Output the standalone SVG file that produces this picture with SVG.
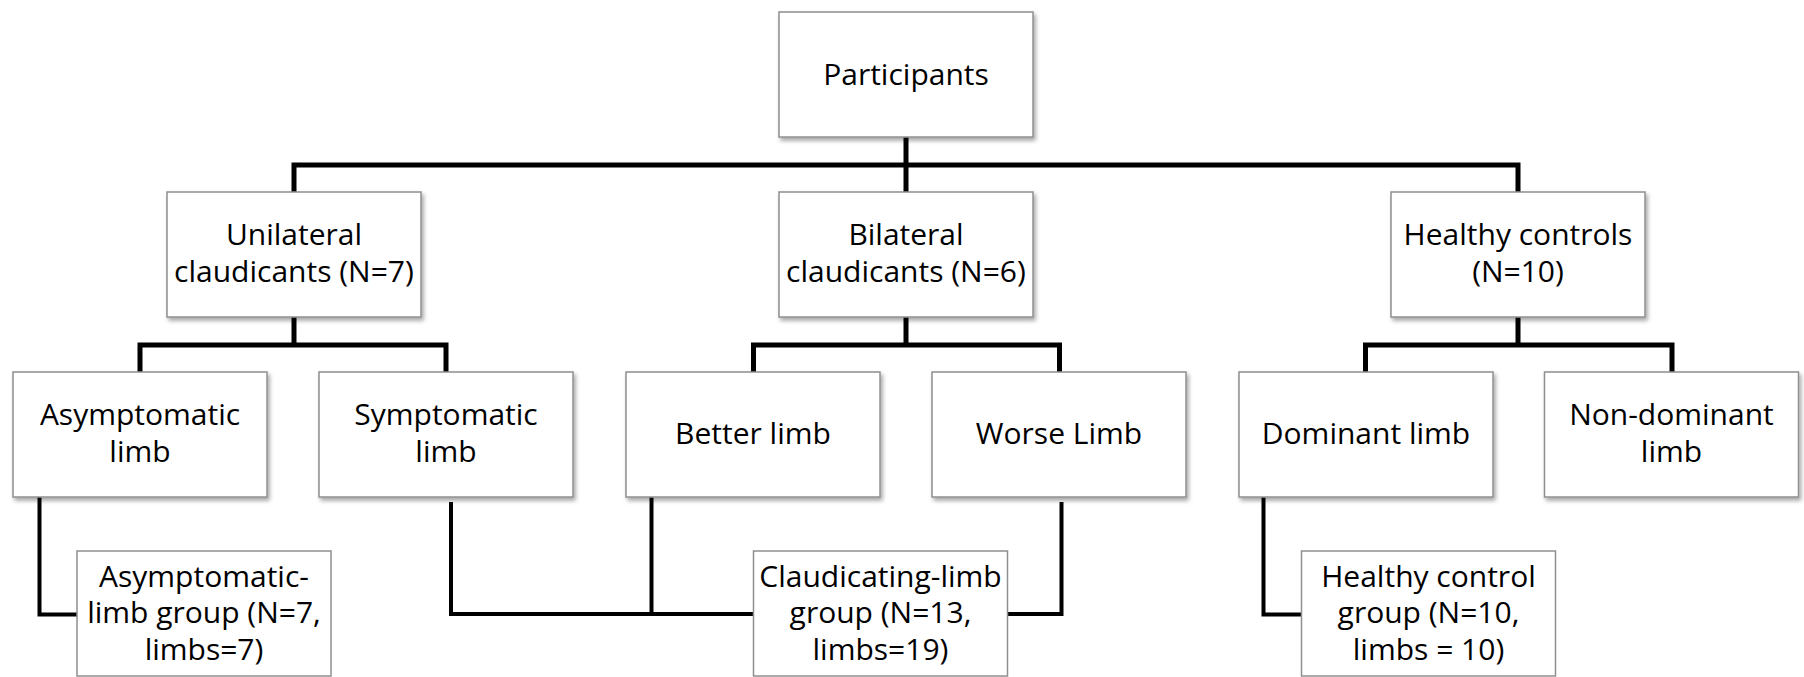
<svg xmlns="http://www.w3.org/2000/svg" width="1804" height="677" viewBox="0 0 1804 677">
<defs>
<filter id="sh" x="-10%" y="-10%" width="125%" height="130%">
<feDropShadow dx="2" dy="3" stdDeviation="2" flood-color="#000" flood-opacity="0.35"/>
</filter>
<style>
.box{fill:#fff;stroke:#8f8f8f;stroke-width:1.5}
.sh{filter:url(#sh)}
text{font-family:"Open Sans","Noto Sans","Liberation Sans",sans-serif;font-size:30px;fill:#000;text-anchor:middle}
.thick{fill:none;stroke:#000;stroke-width:5;stroke-linejoin:miter;stroke-linecap:butt}
.thin{fill:none;stroke:#000;stroke-width:4;stroke-linejoin:miter;stroke-linecap:butt}
</style>
</defs>
<rect width="1804" height="677" fill="#fff"/>
<g id="connectors">
<path class="thick" d="M906,137 V192"/>
<path class="thick" d="M294,192 V165 H1518 V192"/>
<path class="thick" d="M294,317 V345"/>
<path class="thick" d="M140,372 V345 H446 V372"/>
<path class="thick" d="M906,317 V345"/>
<path class="thick" d="M753.5,372 V345 H1059.5 V372"/>
<path class="thick" d="M1518,317 V345"/>
<path class="thick" d="M1365.5,372 V345 H1672 V372"/>
<path class="thin" d="M39.5,497 V614.5 H77"/>
<path class="thin" d="M451,502 V614 H753.5"/>
<path class="thin" d="M651.5,497 V614"/>
<path class="thin" d="M1007.5,614 H1061.5 V502"/>
<path class="thin" d="M1263.5,497 V614.5 H1301.5"/>
</g>
<g id="participants">
<rect class="box sh" x="779" y="12" width="254" height="125"/>
<text x="906" y="85">Participants</text>
</g>
<g id="unilateral">
<rect class="box sh" x="167" y="192" width="254" height="125"/>
<text x="294" y="245">Unilateral<tspan x="294" dy="36.7">claudicants (N=7)</tspan></text>
</g>
<g id="bilateral">
<rect class="box sh" x="779" y="192" width="254" height="125"/>
<text x="906" y="245">Bilateral<tspan x="906" dy="36.7">claudicants (N=6)</tspan></text>
</g>
<g id="healthy">
<rect class="box sh" x="1391" y="192" width="254" height="125"/>
<text x="1518" y="245">Healthy controls<tspan x="1518" dy="36.7">(N=10)</tspan></text>
</g>
<g id="asymptomatic">
<rect class="box sh" x="13" y="372" width="254" height="125"/>
<text x="140" y="425">Asymptomatic<tspan x="140" dy="36.7">limb</tspan></text>
</g>
<g id="symptomatic">
<rect class="box sh" x="319" y="372" width="254" height="125"/>
<text x="446" y="425">Symptomatic<tspan x="446" dy="36.7">limb</tspan></text>
</g>
<g id="better">
<rect class="box sh" x="626" y="372" width="254" height="125"/>
<text x="753" y="444">Better limb</text>
</g>
<g id="worse">
<rect class="box sh" x="932" y="372" width="254" height="125"/>
<text x="1059" y="444">Worse Limb</text>
</g>
<g id="dominant">
<rect class="box sh" x="1239" y="372" width="254" height="125"/>
<text x="1366" y="444">Dominant limb</text>
</g>
<g id="nondominant">
<rect class="box sh" x="1544.5" y="372" width="254" height="125"/>
<text x="1671.5" y="425">Non-dominant<tspan x="1671.5" dy="36.7">limb</tspan></text>
</g>
<g id="asym-group">
<rect class="box" x="77" y="551" width="254" height="125"/>
<text x="204" y="586.7">Asymptomatic-<tspan x="204" dy="36.6">limb group (N=7,</tspan><tspan x="204" dy="36.7">limbs=7)</tspan></text>
</g>
<g id="claud-group">
<rect class="box" x="753.5" y="551" width="254" height="125"/>
<text x="880.5" y="586.7">Claudicating-limb<tspan x="880.5" dy="36.6">group (N=13,</tspan><tspan x="880.5" dy="36.7">limbs=19)</tspan></text>
</g>
<g id="hc-group">
<rect class="box" x="1301.5" y="551" width="254" height="125"/>
<text x="1428.5" y="586.7">Healthy control<tspan x="1428.5" dy="36.6">group (N=10,</tspan><tspan x="1428.5" dy="36.7">limbs = 10)</tspan></text>
</g>
</svg>
